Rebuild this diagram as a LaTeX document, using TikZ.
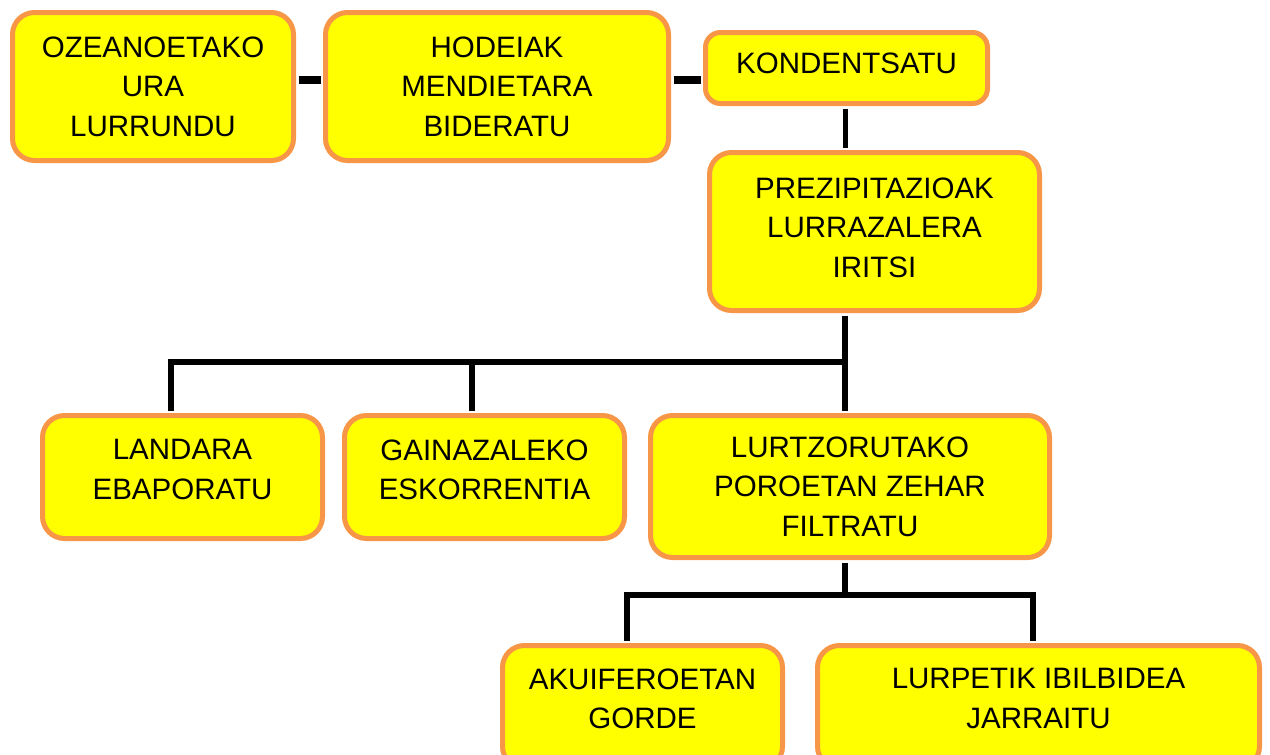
\documentclass[tikz,border=0pt]{standalone}
\usepackage{fontspec}
\setmainfont{Liberation Sans}
\definecolor{boxorange}{RGB}{247,150,70}
\definecolor{boxyellow}{RGB}{255,255,0}
\newcommand{\botpad}[1]{\rule[-#1]{0pt}{#1}}
\tikzset{
  stepbox/.style={draw=boxorange, line width=5pt, fill=boxyellow, rounded corners=22pt,
    align=center, inner sep=0pt, font=\fontsize{29.5pt}{39.5pt}\selectfont},
  link/.style={draw=black, line width=6pt},
}

\begin{document}
\begin{tikzpicture}[x=1pt,y=-1pt]
\useasboundingbox (0,0) rectangle (1270,755);

\coordinate (hline) at (0,80);
\coordinate (br1) at (845,362);
\coordinate (br2) at (845,595);

% box centres
\path (153,86.5) coordinate (p1) (497,86.5) coordinate (p2) (846.5,68) coordinate (p3)
      (874.5,231.5) coordinate (p4) (182.5,477) coordinate (p5) (484.5,477) coordinate (p6)
      (850,486.5) coordinate (p7) (642.5,707) coordinate (p8) (1038.5,707) coordinate (p9);

\node[stepbox, minimum width=281pt, minimum height=148pt] (ozeano) at (p1) {OZEANOETAKO\\URA\\LURRUNDU};
\node[stepbox, minimum width=343pt, minimum height=148pt] (hodei) at (p2) {HODEIAK\\MENDIETARA\\BIDERATU};
\node[stepbox, minimum width=282pt, minimum height=71pt, rounded corners=15pt] (kondent) at (p3) {KONDENTSATU\botpad{10pt}};
\node[stepbox, minimum width=330pt, minimum height=158pt] (prezip) at (p4) {PREZIPITAZIOAK\\LURRAZALERA\\IRITSI\botpad{8pt}};

\node[stepbox, minimum width=280pt, minimum height=123pt] (landara) at (p5) {LANDARA\\EBAPORATU\botpad{15pt}};
\node[stepbox, minimum width=280pt, minimum height=123pt] (gainaz) at (p6) {GAINAZALEKO\\ESKORRENTIA\botpad{15pt}};
\node[stepbox, minimum width=399pt, minimum height=142pt] (lurtzo) at (p7) {LURTZORUTAKO\\POROETAN ZEHAR\\FILTRATU};

\node[stepbox, minimum width=280pt, minimum height=123pt] (akuif) at (p8) {AKUIFEROETAN\\GORDE\botpad{17pt}};
\node[stepbox, minimum width=442pt, minimum height=123pt] (lurpe) at (p9) {LURPETIK IBILBIDEA\\JARRAITU\botpad{17pt}};

% top row
\draw[link, line width=8pt] ([xshift=2.5pt]ozeano.east |- hline) -- ([xshift=-2.5pt]hodei.west |- hline);
\draw[link, line width=8pt] ([xshift=2.5pt]hodei.east |- hline) -- ([xshift=-2.5pt]kondent.west |- hline);
\draw[link, line width=5pt] ([yshift=-2.5pt]kondent.south -| br1) -- ([yshift=2.5pt]prezip.north -| br1);

% first split
\draw[link] ([yshift=-2.5pt]prezip.south -| br1) -- (br1) -| ([xshift=-11.5pt,yshift=2.5pt]landara.north);
\draw[link] ([xshift=-12.5pt,yshift=2.5pt]gainaz.north) |- (br1);
\draw[link] (br1) -- ([yshift=2.5pt]lurtzo.north -| br1);

% second split
\draw[link] ([yshift=-2.5pt]lurtzo.south -| br2) -- (br2);
\draw[link] ([xshift=-15.5pt,yshift=2.5pt]akuif.north) |- (br2) -| ([xshift=-5.5pt,yshift=2.5pt]lurpe.north);
\end{tikzpicture}
\end{document}
